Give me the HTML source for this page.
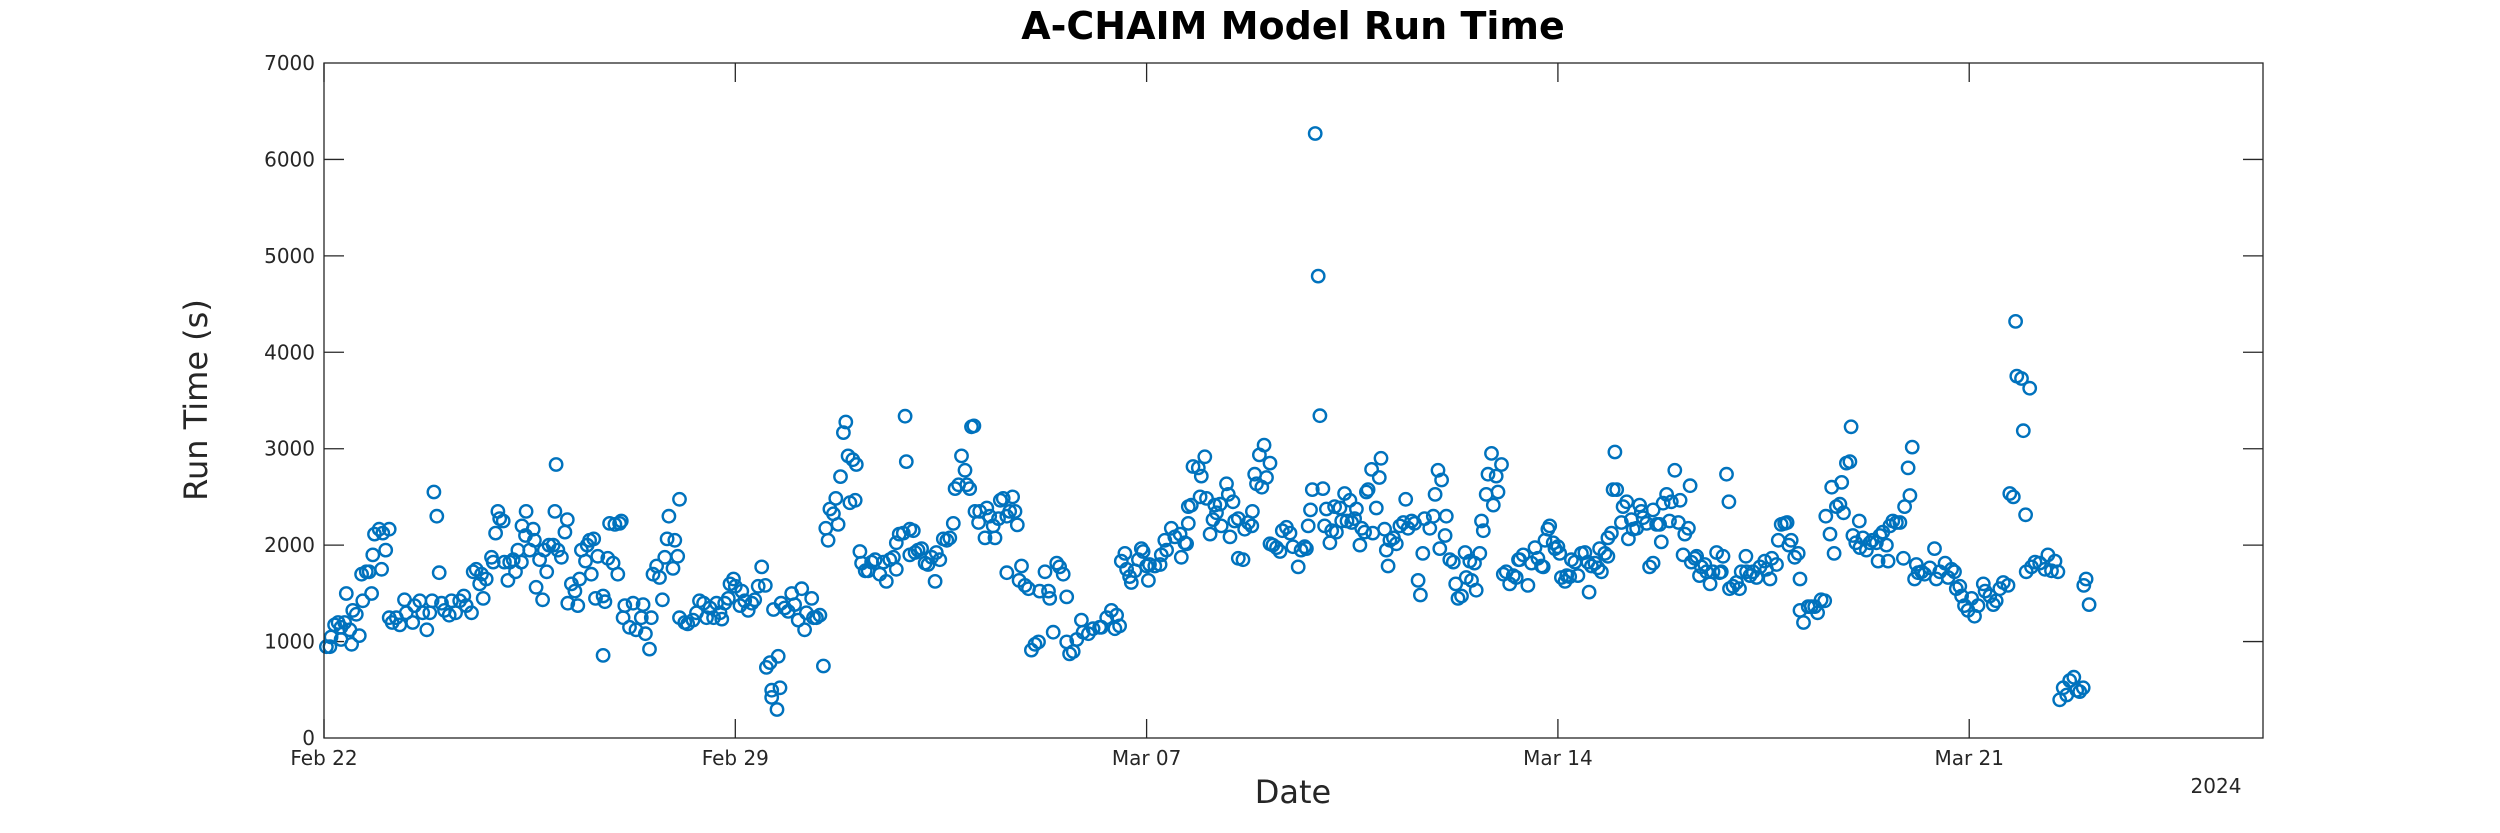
<!DOCTYPE html>
<html><head><meta charset="utf-8"><style>
html,body{margin:0;padding:0;background:#fff;}
svg{display:block;font-family:"DejaVu Sans","Liberation Sans",sans-serif;}
</style></head><body>
<svg id="chart" width="2500" height="833" viewBox="0 0 2500 833" xmlns="http://www.w3.org/2000/svg">
<rect width="2500" height="833" fill="#fff"/>
<text x="1293" y="39" text-anchor="middle" font-size="38" font-weight="bold" fill="#000">A-CHAIM Model Run Time</text>
<g id="ticks"></g>
<g id="marks"></g>
<rect x="324" y="63" width="1939" height="675" fill="none" stroke="#262626" stroke-width="1.3"/>
<text x="1293" y="803" text-anchor="middle" font-size="32" fill="#262626">Date</text>
<text transform="translate(207,400) rotate(-90)" text-anchor="middle" font-size="32" fill="#262626">Run Time (s)</text>
<text x="2216" y="793" text-anchor="middle" font-size="20" fill="#262626">2024</text>
</svg>
<script>
const xTickDays=[0,7,14,21,28];
const xTickLabels=["Feb 22","Feb 29","Mar 07","Mar 14","Mar 21"];
const yTicks=[0,1000,2000,3000,4000,5000,6000,7000];
const days=[0.04,0.10,0.12,0.18,0.24,0.29,0.29,0.35,0.38,0.44,0.47,0.49,0.55,0.60,0.64,0.66,0.72,0.77,0.81,0.83,0.86,0.94,0.98,1.00,1.05,1.11,1.11,1.16,1.23,1.29,1.37,1.40,1.51,1.54,1.63,1.68,1.75,1.80,1.84,1.87,1.92,1.96,2.00,2.05,2.13,2.17,2.24,2.31,2.38,2.42,2.51,2.54,2.59,2.65,2.68,2.71,2.76,2.85,2.88,2.92,2.96,2.99,3.05,3.07,3.13,3.16,3.22,3.26,3.30,3.36,3.37,3.44,3.43,3.50,3.56,3.58,3.61,3.67,3.72,3.75,3.79,3.83,3.90,3.93,3.95,3.98,4.04,4.10,4.14,4.15,4.21,4.27,4.32,4.35,4.38,4.45,4.48,4.52,4.55,4.59,4.62,4.66,4.75,4.75,4.78,4.83,4.86,4.92,4.95,5.00,5.03,5.06,5.09,5.12,5.20,5.26,5.31,5.40,5.43,5.47,5.54,5.57,5.60,5.66,5.71,5.76,5.80,5.84,5.87,5.94,5.97,6.02,6.05,6.05,6.14,6.19,6.28,6.34,6.39,
6.46,6.51,6.57,6.63,6.68,6.74,6.77,6.82,6.88,6.91,6.97,7.00,7.08,7.11,7.16,7.22,7.28,7.33,7.39,7.45,7.51,7.53,7.59,7.62,7.62,7.65,7.71,7.73,7.76,7.78,7.84,7.90,7.96,8.01,8.07,8.13,8.18,8.21,8.30,8.33,8.38,8.44,8.50,8.54,8.58,8.61,8.67,8.71,8.75,8.79,8.84,8.88,8.92,8.95,9.00,9.04,9.06,9.12,9.15,9.21,9.26,9.32,9.38,9.46,9.52,9.57,9.63,9.69,9.74,9.74,9.79,9.86,9.89,9.91,9.97,9.97,10.03,10.06,10.11,10.17,10.23,10.28,10.34,10.40,10.42,10.48,10.54,10.60,10.65,10.71,10.74,10.80,10.85,10.91,10.94,10.99,11.02,11.06,11.08,11.14,11.16,11.25,11.28,11.33,11.39,11.42,11.48,11.51,11.56,11.62,11.62,11.67,11.72,11.76,11.80,11.83,11.87,11.93,11.99,12.04,12.10,12.16,12.18,12.27,12.33,12.35,12.41,12.47,12.52,12.58,12.64,12.64,12.69,12.75,12.81,12.89,12.92,13.01,13.09,13.20,
13.23,13.32,13.40,13.46,13.49,13.54,13.57,13.63,13.66,13.71,13.74,13.80,13.86,13.91,13.94,14.00,14.03,14.05,14.14,14.23,14.25,14.31,14.34,14.42,14.48,14.57,14.59,14.65,14.68,14.71,14.71,14.76,14.79,14.88,14.91,14.93,14.99,15.02,15.08,15.13,15.16,15.19,15.25,15.27,15.36,15.39,15.42,15.47,15.50,15.56,15.56,15.64,15.67,15.73,15.79,15.80,15.84,15.87,15.92,15.96,16.00,16.04,16.10,16.10,16.15,16.21,16.27,16.31,16.38,16.44,16.49,16.58,16.63,16.69,16.72,16.75,16.79,16.82,16.87,16.92,16.95,17.00,17.03,17.06,17.12,17.15,17.20,17.23,17.29,17.32,17.37,17.41,17.46,17.49,17.54,17.57,17.63,17.66,17.71,17.74,17.77,17.83,17.85,17.91,17.96,17.99,18.05,18.08,18.11,18.14,18.20,18.25,18.31,18.37,18.41,18.45,18.51,18.56,18.62,18.66,18.70,18.73,18.82,18.88,18.91,18.96,18.99,19.02,19.08,19.10,19.16,19.22,19.26,19.30,19.36,19.42,19.44,19.50,19.53,19.58,19.61,19.67,19.70,19.73,19.78,19.81,19.87,19.90,19.95,19.98,20.04,20.07,20.12,20.18,20.24,20.29,20.33,
20.35,20.41,20.49,20.55,20.61,20.66,20.72,20.75,20.78,20.83,20.86,20.92,20.95,21.00,21.03,21.06,21.12,21.15,21.20,21.23,21.29,21.34,21.40,21.46,21.51,21.53,21.57,21.63,21.68,21.71,21.74,21.80,21.85,21.85,21.91,21.94,21.97,22.00,22.08,22.11,22.17,22.20,22.25,22.28,22.34,22.39,22.42,22.45,22.51,22.56,22.62,22.62,22.68,22.73,22.76,22.79,22.85,22.90,22.93,22.99,23.05,23.08,23.13,23.16,23.22,23.25,23.27,23.33,23.36,23.41,23.44,23.50,23.53,23.59,23.64,23.70,23.75,23.78,23.81,23.87,23.91,23.92,23.98,24.04,24.09,24.12,24.20,24.21,24.27,24.32,24.38,24.44,24.52,24.55,24.61,24.64,24.72,24.75,24.80,24.86,24.90,24.93,24.97,25.03,25.09,25.12,25.12,25.18,25.26,25.31,25.37,25.42,25.48,25.54,25.56,25.63,25.66,25.70,25.74,25.80,25.83,25.86,25.91,25.97,25.99,26.02,26.07,26.13,26.14,26.19,26.25,26.31,26.35,26.42,26.45,26.48,26.53,26.59,26.62,26.65,26.70,26.76,26.82,26.88,26.90,26.96,26.99,27.03,27.07,27.10,27.13,
27.19,27.24,27.33,27.41,27.44,27.50,27.59,27.64,27.70,27.75,27.78,27.84,27.87,27.92,27.98,28.04,28.09,28.15,28.24,28.27,28.35,28.41,28.46,28.52,28.58,28.66,28.69,28.75,28.79,28.81,28.89,28.92,28.96,29.03,28.97,29.06,29.12,29.20,29.29,29.34,29.40,29.46,29.51,29.54,29.60,29.66,29.71,29.78,29.83,29.88,29.94,29.95,29.99,30.04];
const runTimes=[947,947,1047,1173,1198,1148,1022,1198,1498,1122,972,1323,1283,1062,1699,1423,1724,1724,1498,1899,2115,2165,1749,2125,1949,2165,1248,1198,1248,1173,1433,1298,1198,1373,1423,1298,1122,1298,1423,2551,2300,1714,1398,1323,1273,1423,1298,1423,1473,1373,1298,1724,1749,1598,1699,1448,1649,1874,1824,2125,2350,2275,2250,1824,1634,1824,1849,1724,1949,1824,2200,2350,2100,1949,2165,2050,1563,1849,1433,1949,1724,2000,2000,2350,2836,1949,1874,2135,2265,1398,1598,1523,1373,1649,1949,1834,2000,2050,1699,2065,1448,1884,1473,857,1413,1864,2225,1814,2215,1699,2225,2250,1248,1373,1148,1398,1122,1248,1383,1082,922,1248,1699,1784,1664,1433,1874,2065,2300,1759,2050,1884,2475,1248,1198,1183,1223,1298,1423,
1398,1248,1348,1248,1398,1298,1233,1398,1448,1598,1649,1573,1373,1523,1423,1323,1398,1433,1573,1774,1583,732,782,496,421,1333,296,847,521,1398,1348,1313,1498,1383,1223,1548,1122,1298,1448,1248,1248,1273,747,2175,2050,2375,2325,2485,2215,2711,3167,3277,2926,2440,2886,2465,2836,1934,1814,1734,1734,1824,1849,1699,1824,1624,1849,1874,1749,2024,2115,2125,3337,2866,2165,1899,2150,1924,1949,1964,1814,1799,1874,1624,1924,1849,2065,2050,2075,2225,2586,2626,2926,2776,2626,2586,3227,3237,2350,2235,2350,2075,2385,2300,2200,2075,2275,2465,2485,2300,1714,2350,2500,2350,2210,1634,1784,1583,1548,912,972,997,1523,1724,1523,1448,1097,1814,1774,1699,1463,997,872,897,1022,1223,1097,1082,1133,1148,
1148,1248,1323,1133,1273,1163,1834,1914,1749,1674,1613,1734,1849,1964,1934,1784,1634,1799,1784,1799,1899,2050,1949,2175,2085,2115,1874,2024,2014,2225,2400,2415,2816,2801,2500,2716,2916,2485,2115,2265,2415,2335,2425,2200,2636,2526,2085,2450,2250,2275,1864,1849,2165,2235,2200,2350,2736,2636,2936,2601,3037,2701,2851,2014,2000,1974,1934,2150,2185,2125,1984,1774,1949,1984,1964,2200,2365,2576,6269,4790,3342,2586,2200,2375,2024,2150,2400,2135,2385,2250,2536,2250,2465,2235,2275,2375,2000,2175,2135,2551,2576,2786,2125,2385,2701,2901,2165,1949,1784,2050,2075,2014,2200,2235,2475,2175,2250,2225,1634,1483,1914,2275,2175,2300,2526,2776,1964,2676,2100,2300,1849,1824,1598,1448,1473,1924,1664,1834,1634,1814,1533,1914,2250,2150,2526,2736,2951,2415,2716,2551,2836,1699,1724,1598,1684,1664,1849,
1849,1899,1583,1814,1974,1864,1784,1774,2050,2165,2200,2024,1964,1984,1914,1664,1624,1684,1674,1849,1824,1684,1914,1924,1824,1513,1784,1814,1764,1964,1724,1914,1884,2075,2125,2576,2966,2576,2235,2400,2450,2065,2265,2165,2175,2415,2350,2285,2225,1774,1814,2365,2215,2215,2034,2435,2526,2250,2450,2776,2235,2465,1899,2115,2175,2616,1824,1864,1884,1684,1774,1799,1724,1598,1724,1924,1714,1724,1884,2736,2450,1548,1573,1613,1548,1724,1884,1724,1684,1724,1664,1774,1834,1749,1649,1864,1799,2050,2215,2225,2235,2000,2050,1874,1914,1649,1323,1198,1363,1363,1363,1298,1433,1423,2300,2115,2601,1914,2400,2425,2651,2335,2851,2866,3227,2100,2024,2250,1974,2075,1949,2024,2050,2024,1834,2100,2135,2000,1834,2200,2250,2235,2235,1864,2400,2801,2515,3017,1649,1799,1714,
1724,1699,1764,1964,1649,1724,1814,1664,1749,1724,1548,1573,1473,1373,1323,1448,1263,1373,1598,1523,1473,1383,1423,1548,1613,1583,2536,2500,4320,3753,3728,3187,2315,3628,1724,1774,1824,1814,1749,1899,1734,1834,1724,396,521,446,596,631,496,481,521,1583,1649,1383];
const NS='http://www.w3.org/2000/svg';
const X0=324,X1=2263,Y0=738,Y1=63,DMAX=33,VMAX=7000;
function xScale(d){return X0+(X1-X0)*d/DMAX;}
function yScale(v){return Y0-(Y0-Y1)*v/VMAX;}
const tg=document.getElementById('ticks');
function line(x1,y1,x2,y2){const l=document.createElementNS(NS,'line');l.setAttribute('x1',x1);l.setAttribute('y1',y1);l.setAttribute('x2',x2);l.setAttribute('y2',y2);l.setAttribute('stroke','#262626');l.setAttribute('stroke-width','1.3');return l;}
xTickDays.forEach((d,i)=>{
  const x=xScale(d);
  const a=line(x,Y0,x,Y0-19);
  
  
  tg.appendChild(a);
  const b=line(x,Y1,x,Y1+19);
  
  
  tg.appendChild(b);
  const t=document.createElementNS(NS,'text');
  t.setAttribute('x',x);t.setAttribute('y',Y0+27);t.setAttribute('text-anchor','middle');t.setAttribute('font-size','20');t.setAttribute('fill','#262626');
  t.textContent=xTickLabels[i];
  
  
  tg.appendChild(t);
});
yTicks.forEach(v=>{
  const y=yScale(v);
  if(v>0&&v<VMAX){
    const a=line(X0,y,X0+20,y);
    
    
    tg.appendChild(a);
    const b=line(X1,y,X1-20,y);
    
    
    tg.appendChild(b);
  }
  const t=document.createElementNS(NS,'text');
  t.setAttribute('x',X0-9);t.setAttribute('y',y+7);t.setAttribute('text-anchor','end');t.setAttribute('font-size','20');t.setAttribute('fill','#262626');
  t.textContent=String(v);
  
  
  tg.appendChild(t);
});
const mg=document.getElementById('marks');
for(let i=0;i<days.length;i++){
  const e=document.createElementNS(NS,'ellipse');
  e.setAttribute('cx',xScale(days[i]).toFixed(1));
  e.setAttribute('cy',yScale(runTimes[i]).toFixed(1));
  e.setAttribute('rx','6.2');e.setAttribute('ry','6.2');
  e.setAttribute('fill','none');e.setAttribute('stroke','#0072BD');e.setAttribute('stroke-width','2.4');
  
  
  mg.appendChild(e);
}
</script>
</body></html>
